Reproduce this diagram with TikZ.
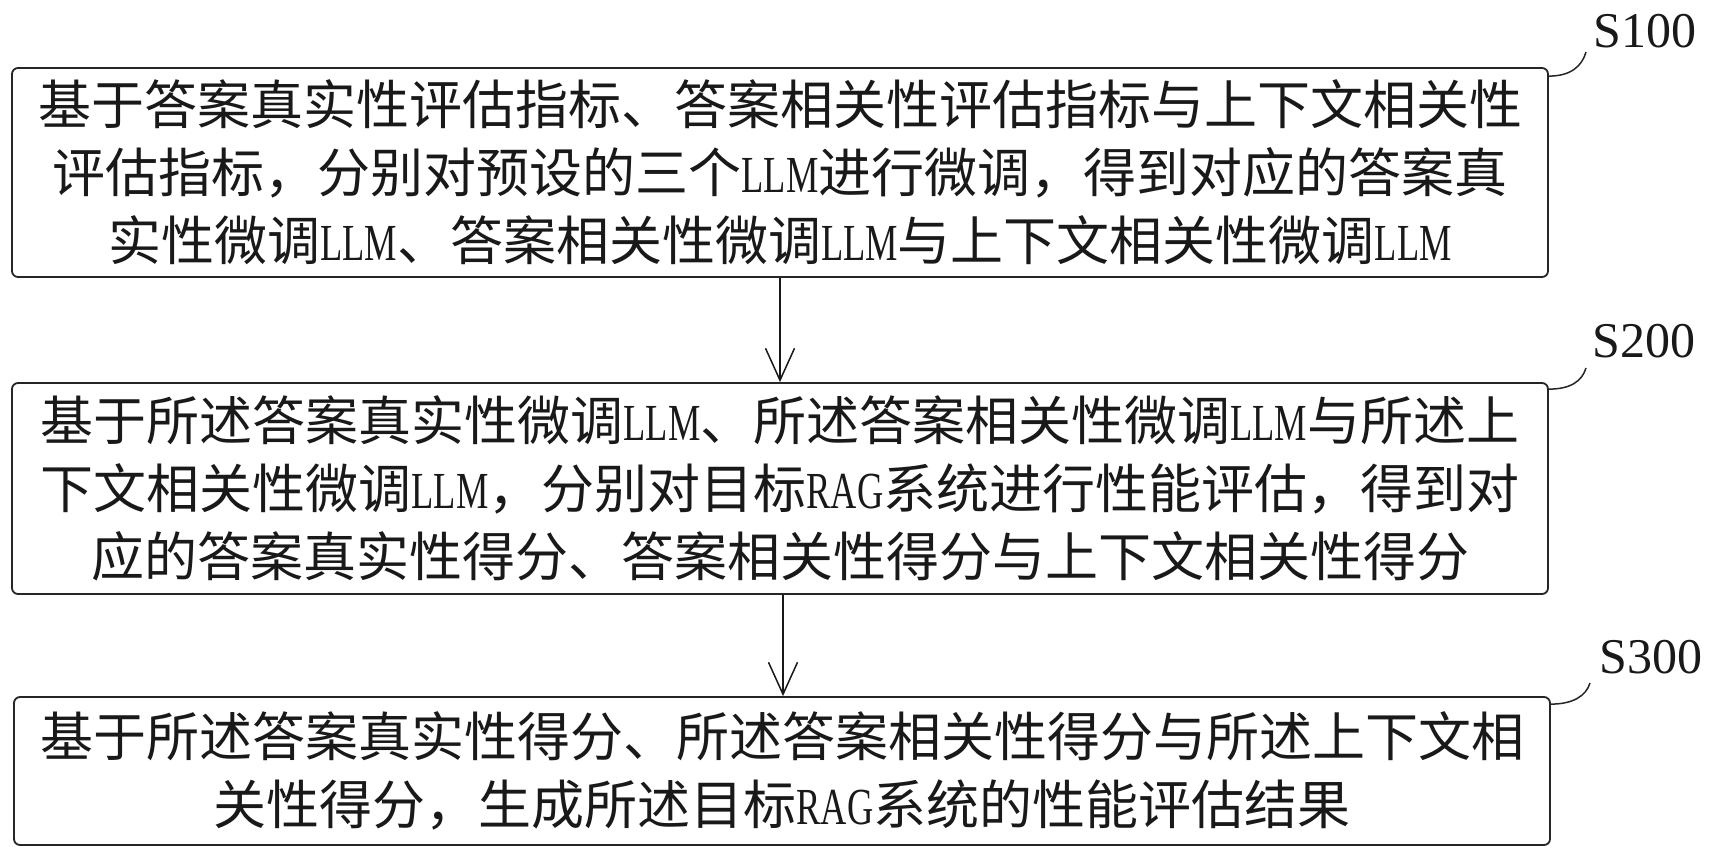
\documentclass[tikz,border=0pt]{standalone}
\usepackage{fontspec}
\setmainfont{Noto Sans CJK SC}
\newfontfamily\latfont[FakeStretch=0.7]{Liberation Serif}
\newfontfamily\labfont{Liberation Serif}
\newcommand\LLt[1]{{\latfont\fontsize{52pt}{68pt}\selectfont #1}}
\usetikzlibrary{arrows.meta,calc}
\begin{document}
\begin{tikzpicture}[x=1pt,y=-1pt,
  box/.style={draw=black!85, line width=1.8pt, rounded corners=6pt, align=center,
    inner sep=0pt, minimum width=1536pt, font=\fontsize{53pt}{68pt}\selectfont, text=black!90},
  lab/.style={font=\labfont\fontsize{50pt}{60pt}\selectfont, inner sep=0pt, text=black!90},
  leader/.style={draw=black!85, line width=1.5pt},
  flow/.style={draw=black!90, line width=1.5pt, -{Straight Barb[length=32pt,width=29pt]}}]
\fill[white] (0,0) rectangle (1713,857);
\useasboundingbox (0,0) rectangle (1713,857);

\node[box, minimum height=209pt] (b1) at (780,172.5)
 {基于答案真实性评估指标、答案相关性评估指标与上下文相关性\\
评估指标，分别对预设的三个\LLt{LLM}进行微调，得到对应的答案真\\
实性微调\LLt{LLM}、答案相关性微调\LLt{LLM}与上下文相关性微调\LLt{LLM}};

\node[box, minimum height=211pt] (b2) at (780,488.5)
 {基于所述答案真实性微调\LLt{LLM}、所述答案相关性微调\LLt{LLM}与所述上\\
下文相关性微调\LLt{LLM}，分别对目标\LLt{RAG}系统进行性能评估，得到对\\
应的答案真实性得分、答案相关性得分与上下文相关性得分};

\node[box, minimum height=148pt] (b3) at (782,771)
 {基于所述答案真实性得分、所述答案相关性得分与所述上下文相\\
关性得分，生成所述目标\LLt{RAG}系统的性能评估结果};

\node[lab] (s1) at (1645,31) {S100};
\node[lab] (s2) at (1644,341) {S200};
\node[lab] (s3) at (1651,657) {S300};

\coordinate (c1) at (1586,52);
\coordinate (c2) at (1586,368);
\coordinate (c3) at (1590,683);

\draw[leader] ($(b1.north east)+(0,9)$) .. controls ($(b1.north east)+(22,9)$) and ($(c1)+(-4,14)$) .. (c1);
\draw[leader] ($(b2.north east)+(0,7)$) .. controls ($(b2.north east)+(22,7)$) and ($(c2)+(-4,13)$) .. (c2);
\draw[leader] ($(b3.north east)+(0,8)$) .. controls ($(b3.north east)+(22,8)$) and ($(c3)+(-4,13)$) .. (c3);

\draw[flow] (b1.south) -- (b2.north);
\draw[flow] ([xshift=3pt]b2.south) -- ([xshift=3pt]b2.south |- b3.north);
\end{tikzpicture}
\end{document}
